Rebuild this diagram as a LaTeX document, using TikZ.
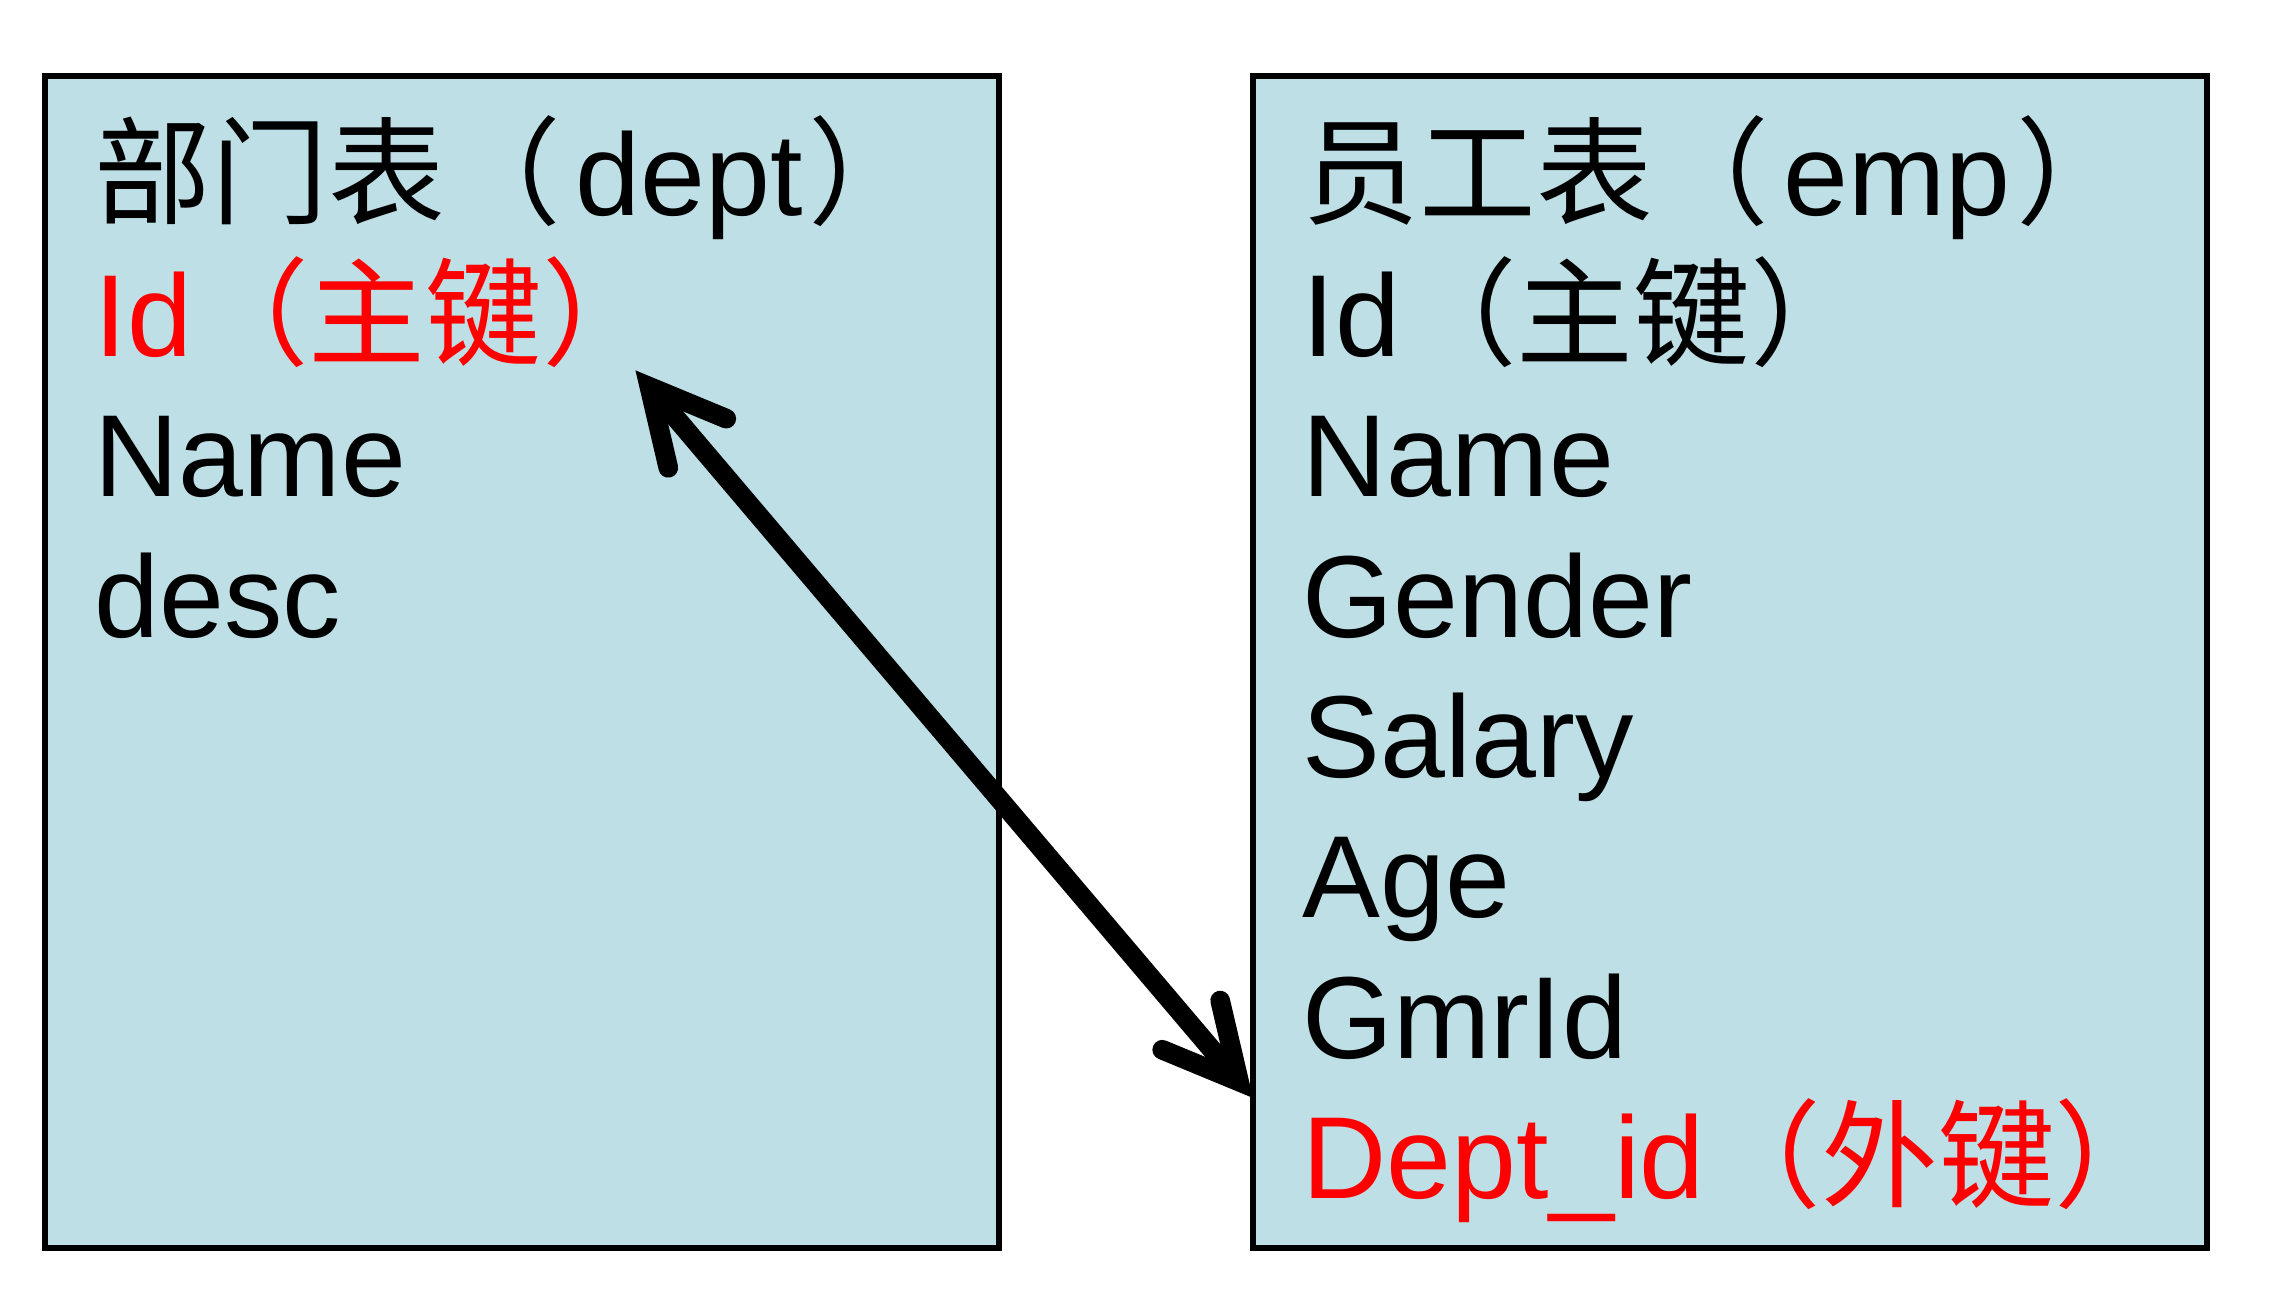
\documentclass[tikz,border=0pt]{standalone}
\usepackage{fontspec}
\setmainfont{Liberation Sans}
\newfontfamily\cjk{Noto Sans CJK SC}
\usepackage{tikz}
\usetikzlibrary{positioning,arrows.meta}
\definecolor{tb}{RGB}{190,223,229}
\definecolor{kr}{rgb}{1,0,0}

\begin{document}
\begin{tikzpicture}[
  node distance = 2.54cm,
  %% table boxes
  tbl/.style = {rectangle, draw=black, line width=1.9pt, fill=tb,
                minimum width=9.54cm, minimum height=11.72cm,
                inner sep=0pt, outer sep=0pt},
  %% field lines
  fld/.style = {anchor=base west, inner sep=0pt,
                font=\fontsize{33.2pt}{40pt}\selectfont},
  key/.style = {fld, text=kr},
  %% arrow
  arr/.style = {<->, >={Straight Barb[length=7.4mm, width=7.6mm,
                line cap=round, line join=miter]},
                line width=5.6pt, draw=black}
]
\useasboundingbox[fill=white] (0,0) rectangle (22.96,13);

%% ---- Tables ----
\node[tbl, anchor=south west] (DEPT) at (0.45,0.52) {};
\node[tbl, right=of DEPT] (EMP) {};

%% ---- dept fields ----
\node[fld] (DT)  at ([shift={(0.49,-1.40)}]DEPT.north west)
  {{\cjk 部门表（}\kern0.12em dept\kern0.05em{\cjk ）}};
\node[key] (DID) at ([yshift=-1.404cm]DT.base west)  {Id{\cjk （主键）}};
\node[fld] (DNM) at ([yshift=-1.404cm]DID.base west) {Name};
\node[fld] (DDS) at ([yshift=-1.404cm]DNM.base west) {desc};

%% ---- emp fields ----
\node[fld] (ET)  at ([shift={(0.49,-1.40)}]EMP.north west)
  {{\cjk 员工表（}\kern0.12em emp\kern0.05em{\cjk ）}};
\node[fld] (EID) at ([yshift=-1.404cm]ET.base west)  {Id{\cjk （主键）}};
\node[fld] (ENM) at ([yshift=-1.404cm]EID.base west) {Name};
\node[fld] (EGD) at ([yshift=-1.404cm]ENM.base west) {Gender};
\node[fld] (ESL) at ([yshift=-1.404cm]EGD.base west) {Salary};
\node[fld] (EAG) at ([yshift=-1.404cm]ESL.base west) {Age};
\node[fld] (EGM) at ([yshift=-1.404cm]EAG.base west) {GmrId};
\node[key] (EFK) at ([yshift=-1.404cm]EGM.base west)
  {Dept\_id{\cjk （外键）}};

%% ---- Key link ----
\coordinate (PK) at ([shift={(-0.24,-0.14)}]DID.base east);
\coordinate (FK) at ([yshift=-4.36cm]EMP.west);
\draw[arr] (PK) -- (FK);

\end{tikzpicture}
\end{document}
